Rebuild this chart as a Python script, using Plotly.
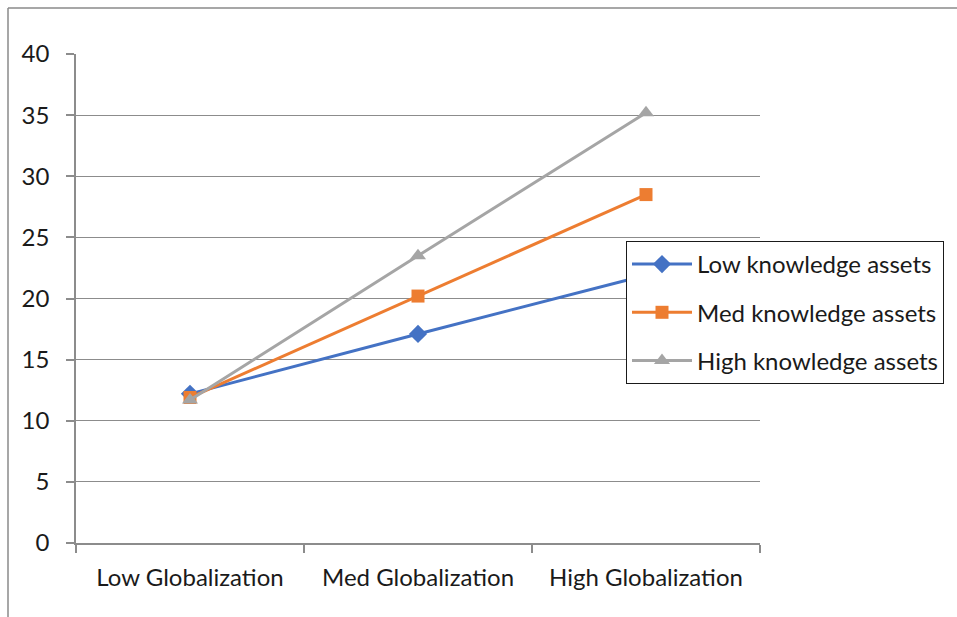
import plotly.graph_objects as go

# Category labels and series values
categories = ["Low Globalization", "Med Globalization", "High Globalization"]
low_assets = [12.2, 17.1, 21.9]
med_assets = [11.9, 20.2, 28.5]
high_assets = [11.7, 23.5, 35.2]

series_names = ["Low knowledge assets", "Med knowledge assets", "High knowledge assets"]

W, H = 957, 617
L, R, T, B = 76, 760, 54, 543  # plot area in pixels

FONT = "Lato"
FSIZE = 24
GRID = "#8c8c8c"

fig = go.Figure()
styles = [
    (low_assets, "#4472C4", "diamond", 14),
    (med_assets, "#ED7D31", "square", 13),
    (high_assets, "#A5A5A5", "triangle-up", 14),
]
for name, (vals, color, sym, size) in zip(series_names, styles):
    fig.add_trace(go.Scatter(
        x=categories, y=vals, name=name, mode="lines+markers",
        legendgroup=name,
        line=dict(color=color, width=3),
        marker=dict(symbol=sym, size=size, color=color),
    ))


def px_x(p):
    return (p - L) / (R - L)


def px_y(p):
    return (B - p) / (B - T)


# outer chart frame (top and left edges)
frame = dict(color="#8a8a8a", width=1.5)
fig.add_shape(type="line", xref="paper", yref="paper",
              x0=px_x(8), x1=px_x(W + 5), y0=px_y(8), y1=px_y(8), line=frame)
fig.add_shape(type="line", xref="paper", yref="paper",
              x0=px_x(8), x1=px_x(8), y0=px_y(8), y1=px_y(H + 5), line=frame)

tick_font = dict(family=FONT, size=FSIZE, color="#1a1a1a")

fig.update_layout(
    width=W, height=H,
    margin=dict(l=L, r=W - R, t=T, b=H - B),
    paper_bgcolor="white", plot_bgcolor="white",
    font=tick_font,
    showlegend=True,
    legend=dict(
        x=px_x(626), y=px_y(241), xanchor="left", yanchor="top",
        bordercolor="#1a1a1a", borderwidth=1, bgcolor="white",
        font=tick_font,
        tracegroupgap=14, itemwidth=60, traceorder="grouped",
    ),
    xaxis=dict(
        type="category", tickson="boundaries", range=[-0.5, 2.5],
        showline=True, linecolor=GRID, linewidth=1.5,
        ticks="outside", ticklen=8, tickcolor=GRID, tickwidth=1.5,
        showgrid=False, ticklabelstandoff=12,
        tickfont=tick_font,
    ),
    yaxis=dict(
        range=[0, 40], dtick=5, tick0=0,
        showline=True, linecolor=GRID, linewidth=1.5,
        ticks="outside", ticklen=8, tickcolor=GRID, tickwidth=1.5,
        showgrid=True, gridcolor=GRID, gridwidth=1,
        zeroline=False, ticklabelstandoff=12,
        tickfont=tick_font,
    ),
)

fig.write_html("out.html")
